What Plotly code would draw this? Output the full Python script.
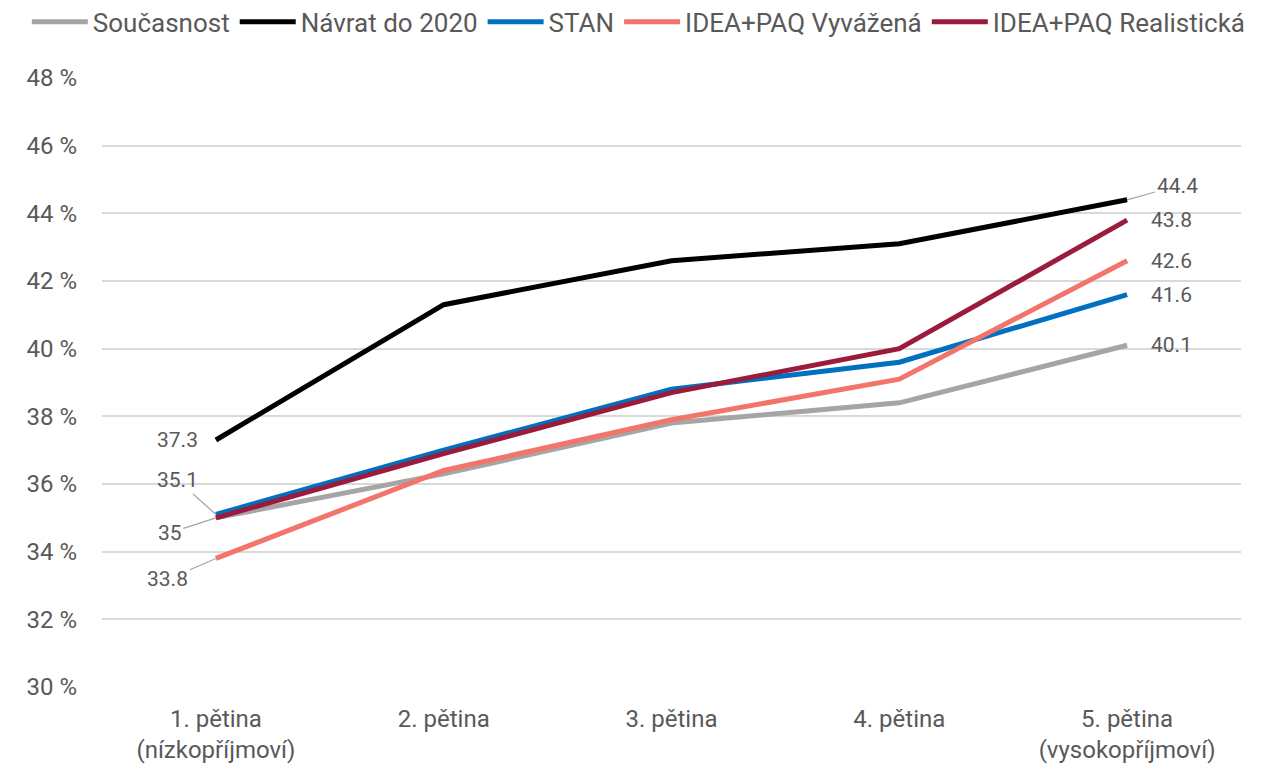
import plotly.graph_objects as go

categories = ["1. pětina<br>(nízkopříjmoví)", "2. pětina", "3. pětina", "4. pětina", "5. pětina<br>(vysokopříjmoví)"]
soucasnost = [35.0, 36.3, 37.8, 38.4, 40.1]
navrat_2020 = [37.3, 41.3, 42.6, 43.1, 44.4]
stan = [35.1, 37.0, 38.8, 39.6, 41.6]
idea_vyvazena = [33.8, 36.4, 37.9, 39.1, 42.6]
idea_realisticka = [35.0, 36.9, 38.7, 40.0, 43.8]
y_ticks = [30, 32, 34, 36, 38, 40, 42, 44, 46, 48]

series = [
    ("Současnost", soucasnost, "#A5A5A5"),
    ("Návrat do 2020", navrat_2020, "#000000"),
    ("STAN", stan, "#0070C0"),
    ("IDEA+PAQ Vyvážená", idea_vyvazena, "#F2746B"),
    ("IDEA+PAQ Realistická", idea_realisticka, "#9B1B3D"),
]

FONT = "Roboto, 'Noto Sans', sans-serif"
TXT = "#595959"

fig = go.Figure()
for name, vals, col in series:
    fig.add_trace(go.Scatter(x=categories, y=vals, name=name, mode="lines",
                             line=dict(color=col, width=5)))

first = categories[0]
last = categories[-1]
lab_font = dict(family=FONT, size=21, color=TXT)
lead = "#A5A5A5"
fig.add_annotation(x=first, y=navrat_2020[0], text=f"{navrat_2020[0]:g}", showarrow=False,
                   xanchor="right", xshift=-16, yshift=0, font=lab_font)
fig.add_annotation(x=first, y=stan[0], text=f"{stan[0]:g}", showarrow=True, arrowhead=0,
                   arrowwidth=1.2, arrowcolor=lead, ax=-38, ay=-34, standoff=0, font=lab_font)
fig.add_annotation(x=first, y=soucasnost[0], text=f"{soucasnost[0]:g}", showarrow=True, arrowhead=0,
                   arrowwidth=1.2, arrowcolor=lead, ax=-46, ay=15, standoff=0, font=lab_font)
fig.add_annotation(x=first, y=idea_vyvazena[0], text=f"{idea_vyvazena[0]:g}", showarrow=True, arrowhead=0,
                   arrowwidth=1.2, arrowcolor=lead, ax=-48, ay=21, standoff=0, font=lab_font)

fig.add_annotation(x=last, y=navrat_2020[-1], text=f"{navrat_2020[-1]:g}", showarrow=True, arrowhead=0,
                   arrowwidth=1.2, arrowcolor=lead, ax=50, ay=-14, standoff=0, font=lab_font)
for vals in [idea_realisticka, idea_vyvazena, stan, soucasnost]:
    fig.add_annotation(x=last, y=vals[-1], text=f"{vals[-1]:g}", showarrow=False,
                       xanchor="left", xshift=22, font=lab_font)

fig.update_layout(
    width=1266, height=765,
    margin=dict(l=102, r=25, t=78, b=78, autoexpand=False),
    paper_bgcolor="white", plot_bgcolor="white",
    font=dict(family=FONT, size=24, color=TXT),
    showlegend=True,
    legend=dict(orientation="h", x=-0.066, xanchor="left", xref="paper",
                y=1.092, yref="paper", yanchor="middle",
                font=dict(family=FONT, size=26, color=TXT),
                itemwidth=56, tracegroupgap=0),
    xaxis=dict(type="category", range=[-0.5, 4.5], showgrid=False, showline=False,
               automargin=False, ticks="", ticklabelstandoff=15,
               tickfont=dict(family=FONT, size=24, color=TXT)),
    yaxis=dict(range=[30, 48], tickvals=y_ticks, ticktext=[f"{v} %" for v in y_ticks],
               showgrid=True, gridcolor="#D9D9D9", gridwidth=1.5, zeroline=False,
               automargin=False, showline=False, ticks="", ticklabelstandoff=24,
               tickfont=dict(family=FONT, size=24, color=TXT)),
)

fig.write_html("out.html", config={"displayModeBar": False},
               post_script="document.body.style.margin='0';document.body.style.overflow='hidden';")
